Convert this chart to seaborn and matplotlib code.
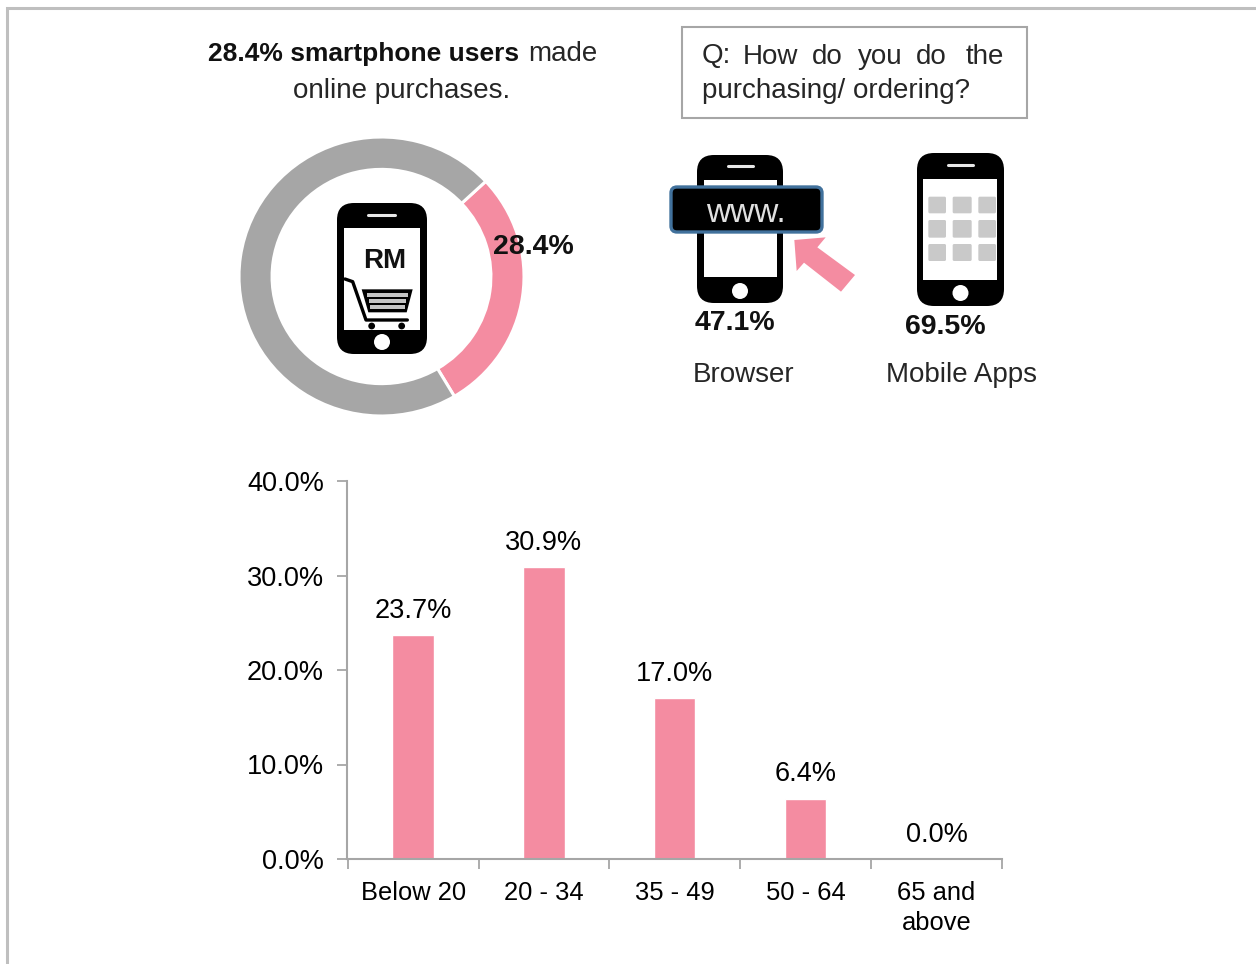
import matplotlib
matplotlib.use("Agg")
import matplotlib.pyplot as plt
import pandas as pd
import seaborn as sns
from matplotlib.patches import Circle, FancyBboxPatch, Polygon, Rectangle

# Survey figures
age_groups = ["Below 20", "20 - 34", "35 - 49", "50 - 64", "65 and\nabove"]
age_shares = [23.7, 30.9, 17.0, 6.4, 0.0]
online_buyers = [28.4, 71.6]
browser_share = 47.1
apps_share = 69.5
y_ticks = [0, 10, 20, 30, 40]

PINK = "#f48ca1"
GREY = "#a6a6a6"
FONT = "Liberation Sans"
W, H = 1256, 964

sns.set_theme(style="white")
plt.rcParams["font.family"] = [FONT, "DejaVu Sans"]
fig = plt.figure(figsize=(W / 100, H / 100), dpi=100, facecolor="white")


def axes_from_pixels(left, top, right, bottom):
    return fig.add_axes([left / W, 1 - bottom / H, (right - left) / W, (bottom - top) / H])


# Age breakdown
ax = axes_from_pixels(347, 481, 1002, 859)
frame = pd.DataFrame({"age": age_groups, "share": age_shares})
sns.barplot(data=frame, x="age", y="share", color=PINK, width=0.315, saturation=1, ax=ax)
ax.set_xlim(-0.505, 4.5)
ax.set_ylim(0, 40)
ax.set_xlabel("")
ax.set_ylabel("")
ax.set_yticks(y_ticks, [f"{v:.1f}%" for v in y_ticks])
ax.set_xticks([i - 0.5 for i in range(6)], [""] * 6)
ax.set_xticks(range(5), age_groups, minor=True)
ax.tick_params(axis="y", length=7, width=1.3, color=GREY, labelsize=19.5, labelcolor="black", pad=9.5, left=True)
ax.tick_params(axis="x", which="major", length=7, width=1.3, color=GREY, bottom=True)
ax.tick_params(axis="x", which="minor", length=0, labelsize=18.4, labelcolor="black", pad=16)
for label in ax.get_xticklabels(minor=True):
    label.set_linespacing(1.3)
sns.despine(ax=ax)
for side in ("left", "bottom"):
    ax.spines[side].set_color(GREY)
    ax.spines[side].set_linewidth(1.5)
ax.bar_label(ax.containers[0], labels=[f"{v:.1f}%" for v in age_shares], padding=8, fontsize=19.5, color="black")

# Share of smartphone users buying online
donut = axes_from_pixels(239, 137, 524, 416)
donut.pie(online_buyers, colors=[PINK, GREY], startangle=43, counterclock=False, radius=1,
          wedgeprops={"width": 0.232, "edgecolor": "white", "linewidth": 2.2})
donut.set_aspect("auto")
donut.set_xlim(-1, 1)
donut.set_ylim(-1, 1)

# Full-figure layer in pixel units for the icons and captions
layer = fig.add_axes([0, 0, 1, 1], facecolor="none")
layer.set_xlim(0, W)
layer.set_ylim(H, 0)
layer.axis("off")

layer.plot([7, 7, W], [H, 8, 8], color="#bfbfbf", lw=2.2, solid_joinstyle="miter")


def phone(x0, x1, y0, y1, sx0, sx1, sy0, sy1, speaker, speaker_y, home_y, home_r=8):
    corner = 17
    layer.add_patch(FancyBboxPatch((x0 + corner, y0 + corner), x1 - x0 - 2 * corner, y1 - y0 - 2 * corner,
                                   boxstyle=f"round,pad={corner},rounding_size={corner}", fc="black", ec="none"))
    layer.add_patch(Rectangle((sx0, sy0), sx1 - sx0, sy1 - sy0, fc="white", ec="none"))
    layer.plot(speaker, [speaker_y] * 2, color="#e8e8e8", lw=2.2, solid_capstyle="round")
    layer.add_patch(Circle(((x0 + x1) / 2, home_y), home_r, fc="white", ec="none"))


# Phone with shopping cart inside the donut
phone(337, 427, 203, 354, 344, 420, 228, 330, [368, 395], 215, 342)
layer.text(385, 261, "RM", ha="center", va="center", fontsize=20, fontweight="bold", color="#111111")


def cart_xy(x, y):
    return x / 3 + 230, y / 3 + 130


def cart_path(points, lw=2):
    xs, ys = zip(*[cart_xy(*p) for p in points])
    layer.plot(xs, ys, color="black", lw=lw, solid_joinstyle="round")


cart_path([(345, 447), (368, 455), (408, 570), (532, 570)], lw=2.4)
layer.add_patch(Polygon([cart_xy(*p) for p in [(395, 478), (548, 478), (530, 547), (415, 547)]], fc="black", ec="none"))
for y0, y1, a, b in [(488, 500, 410, 534), (508, 518, 416, 528), (526, 536, 421, 524)]:
    layer.add_patch(Rectangle(cart_xy(a, y0), (b - a) / 3, (y1 - y0) / 3, fc="#c4c4c4", ec="none"))
for x in (425, 515):
    cx, cy = cart_xy(x, 588)
    layer.add_patch(Circle((cx, cy), 3.4, fc="black", ec="none"))

# Browser phone with address bar and arrow
phone(697, 783, 155, 303, 704, 777, 180, 277, [728, 753], 166, 291)
layer.add_patch(FancyBboxPatch((676, 192), 141, 35, boxstyle="round,pad=5,rounding_size=6",
                               fc="black", ec="#41719c", lw=2.4, zorder=3))
layer.text(746, 214, "www.", ha="center", va="center", fontsize=24, color="#e0e0e0", zorder=4)
arrow = [(403, 300), (497, 292), (472, 322), (585, 405), (543, 455), (432, 368), (410, 393)]
layer.add_patch(Polygon([(x / 3 + 660, y / 3 + 140) for x, y in arrow], fc=PINK, ec="none", zorder=3))

# App phone with tile grid
phone(917, 1004, 153, 306, 923, 997, 179, 280, [948, 973], 165, 293)
for ty0, ty1 in [(170, 220), (240, 293), (312, 363)]:
    for tx0, tx1 in [(805, 858), (878, 935), (955, 1008)]:
        layer.add_patch(FancyBboxPatch((tx0 / 3 + 660 + 1, ty0 / 3 + 140 + 1), (tx1 - tx0) / 3 - 2, (ty1 - ty0) / 3 - 2,
                                       boxstyle="round,pad=1,rounding_size=1.5", fc="#c9c9c9", ec="none"))

# Captions
layer.text(208, 53.5, "28.4% smartphone users", ha="left", va="center", fontsize=19, fontweight="bold", color="#111111")
layer.text(597, 54, "made", ha="right", va="center", fontsize=20, color="#262626")
layer.text(402, 90.5, "online purchases.", ha="center", va="center", fontsize=20, color="#262626")
layer.text(533, 247, f"{online_buyers[0]}%", ha="center", va="center", fontsize=20.5, fontweight="bold", color="#111111")

layer.add_patch(Rectangle((681.5, 26.5), 345, 91, fc="white", ec=GREY, lw=1.5))
question_words = ["Q:", "How", "do", "you", "do", "the"]
for word, x in zip(question_words, [702, 743, 812, 858, 916, 1004]):
    layer.text(x, 56.5, word, ha="right" if word == "the" else "left", va="center", fontsize=20, color="#262626")
layer.text(702, 90.5, "purchasing/ ordering?", ha="left", va="center", fontsize=20, color="#262626")

layer.text(735, 323, f"{browser_share}%", ha="center", va="center", fontsize=20.5, fontweight="bold", color="#111111")
layer.text(945, 327, f"{apps_share}%", ha="center", va="center", fontsize=20.5, fontweight="bold", color="#111111")
layer.text(744, 375, "Browser", ha="center", va="center", fontsize=20, color="#262626")
layer.text(962, 374.5, "Mobile Apps", ha="center", va="center", fontsize=20, color="#262626")

fig.savefig("out.png", dpi=100, facecolor="white")
